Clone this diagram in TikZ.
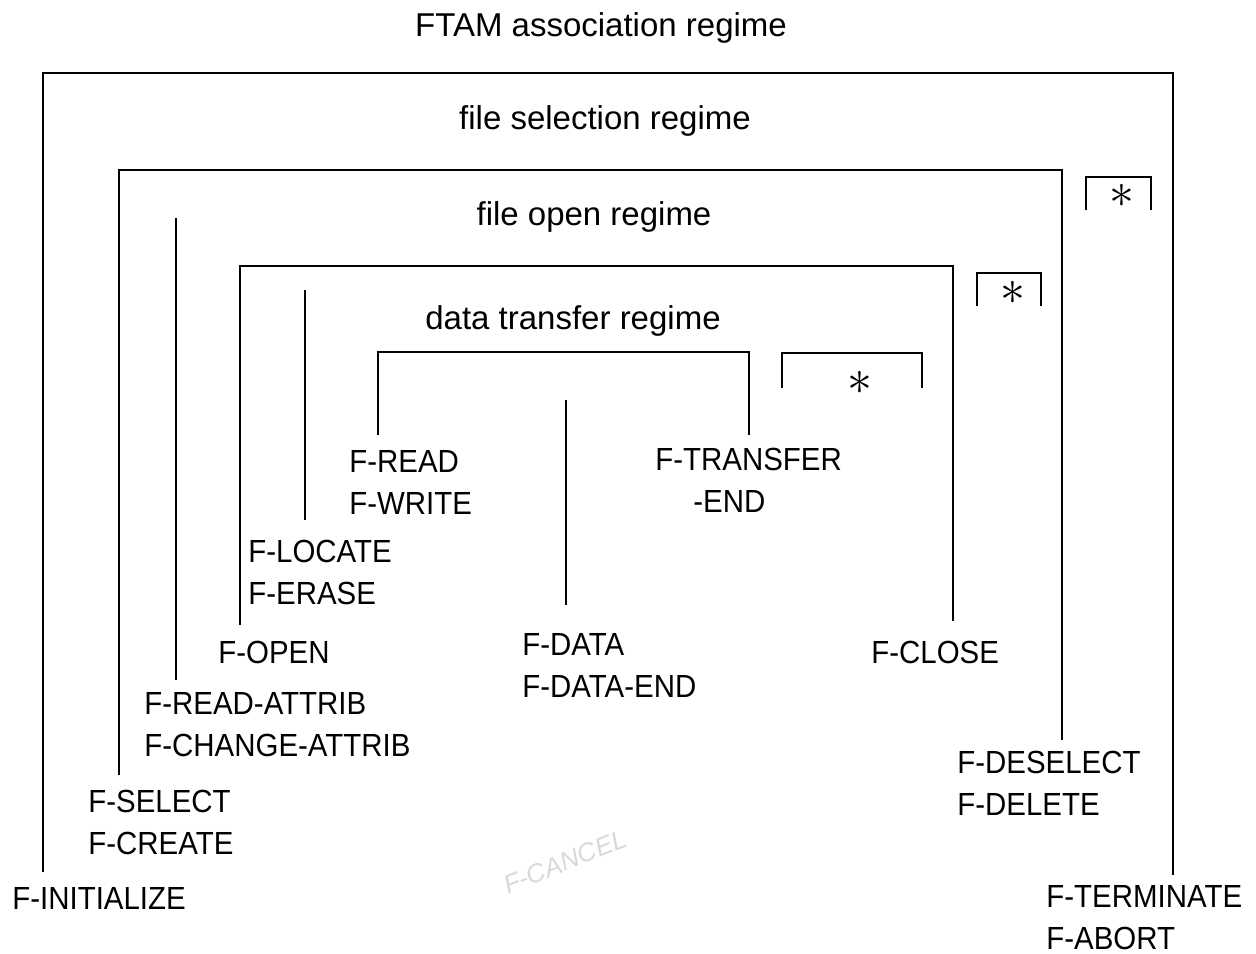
\documentclass[tikz,border=0pt]{standalone}
\usepackage{fontspec}
\setmainfont{Liberation Sans}
\newfontfamily\primfont{Liberation Sans}[FakeStretch=0.92]
\usetikzlibrary{positioning}

\begin{document}
\begin{tikzpicture}[x=.5pt,y=-.5pt,
  regime/.style={line width=1.4pt,line join=miter},
  prim/.style={anchor=north west,inner sep=0pt,align=left,font=\primfont\fontsize{16}{21}\selectfont},
  ttl/.style={anchor=base,inner sep=0pt,font=\fontsize{16.5}{16.5}\selectfont},
  star/.style={inner sep=0pt,font=\fontsize{24}{24}\selectfont}]
 \useasboundingbox (0,0) rectangle (1256,953);
 % regime titles
 \node[ttl] (assoc) at (601,36) {FTAM association regime};
 \node[ttl] (selreg) at (605,129) {file selection regime};
 \node[ttl] (openreg) at (594,225) {file open regime};
 \node[ttl] (datareg) at (573,329) {data transfer regime};
 % service primitives
 \node[prim] (init) at (12,887) {F-INITIALIZE};
 \node[prim] (select) at (88,790) {F-SELECT\\F-CREATE};
 \node[prim] (attrib) at (144,692) {F-READ-ATTRIB\\F-CHANGE-ATTRIB};
 \node[prim] (openp) at (218,641) {F-OPEN};
 \node[prim] (locate) at (248,540) {F-LOCATE\\F-ERASE};
 \node[prim] (rw) at (349,450) {F-READ\\F-WRITE};
 \node[prim] (transfer) at (655,448) {F-TRANSFER\\\hspace*{19pt}-END};
 \node[prim] (data) at (522,633) {F-DATA\\F-DATA-END};
 \node[prim] (close) at (871,641) {F-CLOSE};
 \node[prim] (deselect) at (957,751) {F-DESELECT\\F-DELETE};
 \node[prim] (term) at (1046,885) {F-TERMINATE\\F-ABORT};
 % line ends above the labels
 \coordinate (initEnd) at ([yshift=7.5pt]init.north);
 \coordinate (termEnd) at ([yshift=5pt]term.north);
 \coordinate (selEnd) at ([yshift=7.5pt]select.north);
 \coordinate (deselEnd) at ([yshift=5.5pt]deselect.north);
 \coordinate (attrEnd) at ([yshift=6pt]attrib.north);
 \coordinate (openEnd) at ([yshift=8pt]openp.north);
 \coordinate (closeEnd) at ([yshift=10pt]close.north);
 \coordinate (locEnd) at ([yshift=10pt]locate.north);
 \coordinate (rwEnd) at ([yshift=7.5pt]rw.north);
 \coordinate (trEnd) at ([yshift=6.5pt]transfer.north);
 \coordinate (dataEnd) at ([yshift=14pt]data.north);
 % regime brackets
 \draw[regime] (43,0 |- initEnd) |- (1173,73) -- (1173,0 |- termEnd);
 \draw[regime] (119,0 |- selEnd) |- (1062,170) -- (1062,0 |- deselEnd);
 \draw[regime] (240,0 |- openEnd) |- (953,266) -- (953,0 |- closeEnd);
 \draw[regime] (378,0 |- rwEnd) |- (749,352) -- (749,0 |- trEnd);
 \draw[regime] (176,218) -- (176,0 |- attrEnd);
 \draw[regime] (305,290) -- (305,0 |- locEnd);
 \draw[regime] (566,400) -- (566,0 |- dataEnd);
 % repetition brackets
 \draw[regime] (1086,210) |- (1151,177) -- (1151,210);
 \node[star] (rep1) at (1122,196) {$\ast$};
 \draw[regime] (977,306) |- (1041,273) -- (1041,306);
 \node[star] (rep2) at (1013,293) {$\ast$};
 \draw[regime] (782,388) |- (922,353) -- (922,388);
 \node[star] (rep3) at (860,383) {$\ast$};
 % faint pencil note
 \node[rotate=22,text=black!15,font=\itshape\fontsize{13}{13}\selectfont] (note) at (565,862) {F-CANCEL};
\end{tikzpicture}
\end{document}
